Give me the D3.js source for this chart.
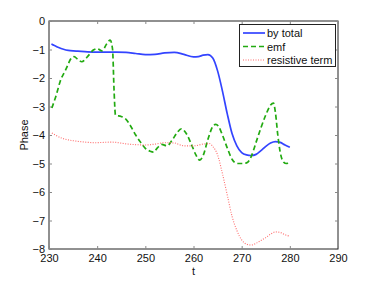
<!DOCTYPE html>
<html><head><meta charset="utf-8">
<script src="https://cdn.jsdelivr.net/npm/d3@7"></script>
<style>body{margin:0;background:#fff}svg{display:block}text{font-family:"Liberation Sans",Arial,sans-serif}</style>
</head><body><svg id="c" width="374" height="281"></svg>
<script>
const xTicks = [230,240,250,260,270,280,290];
const yTicks = [0,-1,-2,-3,-4,-5,-6,-7,-8];
const seriesNames = ["by total","emf","resistive term"];

const totalT = [230.5,231,232,233,234,235,236,238,240,242,244,246,248,250,252,254,256,258,260,261,262,263,264,265,266,267,268,269,270,271,272,273,274,275,276,277,278,279,280];
const totalV = [-0.81,-0.85,-0.93,-0.99,-1.03,-1.05,-1.06,-1.08,-1.09,-1.09,-1.09,-1.10,-1.14,-1.18,-1.17,-1.12,-1.10,-1.17,-1.26,-1.25,-1.20,-1.18,-1.30,-1.75,-2.45,-3.25,-3.95,-4.38,-4.62,-4.70,-4.72,-4.68,-4.55,-4.40,-4.28,-4.23,-4.26,-4.35,-4.43];

const emfT = [230.6,231.5,232.3,233.5,234.7,235.2,236,236.8,238,239.2,240,241,242,242.7,243.2,243.5,243.8,245,246,247,248,249,250,251,251.7,252.5,253.4,254.5,255.5,256.5,257.5,258.5,259.5,260.5,261.3,262,263,264,264.6,265.2,266,267,268,269,270,271,272,273,274,275,276,276.6,277,277.5,278,278.7,279.3,280];
const emfV = [-3.05,-2.6,-2.13,-1.7,-1.29,-1.25,-1.35,-1.43,-1.25,-1.02,-0.97,-1.05,-0.8,-0.67,-1.0,-2.4,-3.3,-3.35,-3.45,-3.7,-4.0,-4.25,-4.47,-4.57,-4.6,-4.45,-4.33,-4.38,-4.2,-3.94,-3.78,-3.95,-4.3,-4.7,-4.88,-4.72,-4.15,-3.7,-3.63,-3.7,-4.0,-4.45,-4.85,-5.0,-5.0,-4.98,-4.75,-4.25,-3.75,-3.3,-2.95,-2.88,-3.2,-4.0,-4.6,-4.95,-5.0,-4.9];

const resT = [230.6,231.5,233,235,237,239.5,243,246.5,250,252,254,256,258,260,262,263.3,264,265,266,267,268,269,270,271,272,273,274,275,276,277,278,279,280];
const resV = [-3.93,-4.02,-4.13,-4.2,-4.24,-4.27,-4.25,-4.32,-4.35,-4.32,-4.27,-4.28,-4.38,-4.38,-4.32,-4.3,-4.4,-4.7,-5.35,-6.1,-6.85,-7.35,-7.68,-7.83,-7.86,-7.8,-7.7,-7.6,-7.48,-7.4,-7.42,-7.5,-7.55];

const svg = d3.select("#c");
const L=49, R=338, T=21, B=249;
const x = d3.scaleLinear().domain([230,290]).range([L,R]);
const y = d3.scaleLinear().domain([-8,0]).range([B,T]);
const axisCol = "#222";

svg.append("rect").attr("x",L).attr("y",T).attr("width",R-L).attr("height",B-T)
  .attr("fill","none").attr("stroke",axisCol).attr("stroke-width",1);

const gx = svg.append("g").attr("transform",`translate(0,${B})`)
  .call(d3.axisBottom(x).tickValues(xTicks).tickSize(-3).tickPadding(5).tickFormat(d3.format("d")));
const gxt = svg.append("g").attr("transform",`translate(0,${T})`)
  .call(d3.axisTop(x).tickValues(xTicks).tickSize(-3).tickFormat(""));
const fmtY = d => d===0 ? "0" : "\u2212"+Math.abs(d);
const gy = svg.append("g").attr("transform",`translate(${L},0)`)
  .call(d3.axisLeft(y).tickValues(yTicks).tickSize(-3).tickPadding(4).tickFormat(fmtY));
const gyr = svg.append("g").attr("transform",`translate(${R},0)`)
  .call(d3.axisRight(y).tickValues(yTicks).tickSize(-3).tickFormat(""));
[gx,gxt,gy,gyr].forEach(g=>{
  g.select(".domain").remove();
  g.selectAll(".tick line").attr("stroke","#888");
  g.selectAll("text").attr("font-size",11).attr("fill","#111").style("font-family","'Liberation Sans',Arial,sans-serif");
});

svg.append("text").attr("x",x(260)).attr("y",275).attr("text-anchor","middle").attr("font-size",11).attr("fill","#111").text("t");
svg.append("text").attr("transform",`translate(28,${(T+B)/2}) rotate(-90)`).attr("text-anchor","middle").attr("font-size",11).attr("fill","#111").text("Phase");

const line = d3.line().x(d=>x(d[0])).y(d=>y(d[1])).curve(d3.curveMonotoneX);
const styles = [
  {t:totalT,v:totalV,c:"#3344ff",w:1.7,dash:null},
  {t:emfT,v:emfV,c:"#22aa11",w:1.7,dash:"5,3"},
  {t:resT,v:resV,c:"#ff6b6b",w:1.1,dash:"1,1.5"}
];
const plot = svg.append("g");
styles.forEach(s=>{
  plot.append("path").datum(s.t.map((t,i)=>[t,s.v[i]]))
    .attr("d",line).attr("fill","none").attr("stroke",s.c).attr("stroke-width",s.w)
    .attr("stroke-dasharray",s.dash);
});

const lg = svg.append("g");
lg.append("rect").attr("x",239.5).attr("y",24.5).attr("width",96).attr("height",42)
  .attr("fill","#fff").attr("stroke",axisCol).attr("stroke-width",1);
seriesNames.forEach((n,i)=>{
  const yy = 33 + i*13.5;
  const s = styles[i];
  lg.append("line").attr("x1",243).attr("x2",265).attr("y1",yy).attr("y2",yy)
    .attr("stroke",s.c).attr("stroke-width",s.w).attr("stroke-dasharray",s.dash);
  lg.append("text").attr("x",267).attr("y",yy+4).attr("font-size",11).attr("fill","#111").text(n);
});
</script></body></html>
